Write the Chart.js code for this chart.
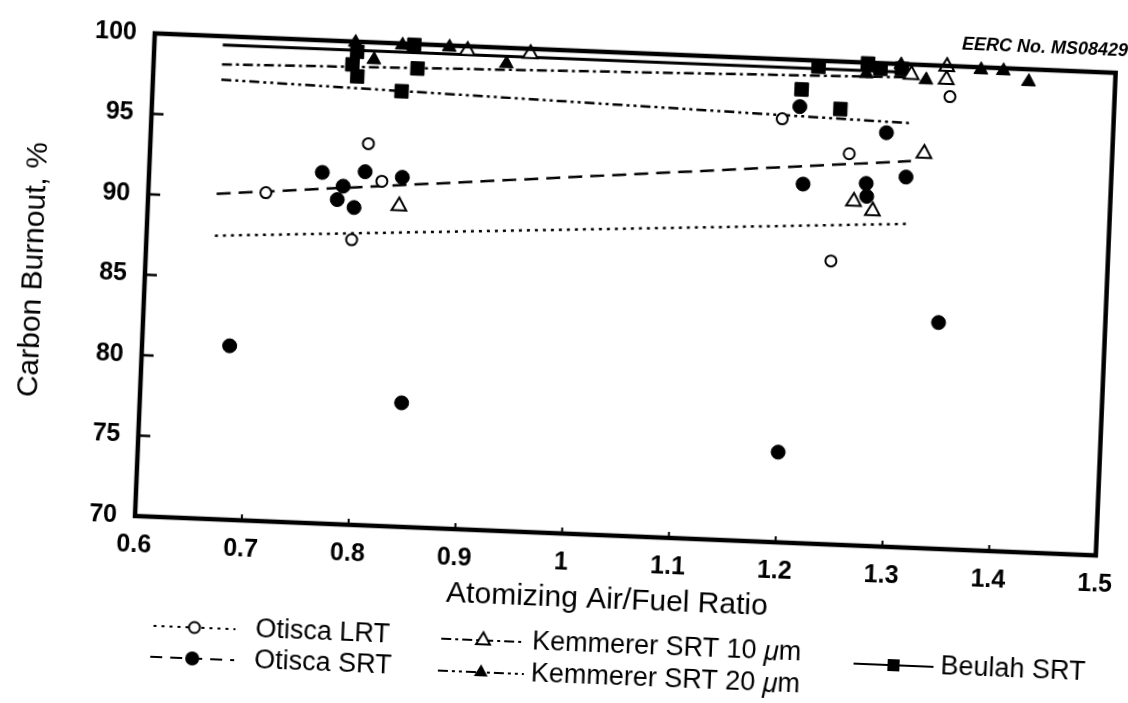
<!DOCTYPE html>
<html>
<head>
<meta charset="utf-8">
<script src="https://cdn.jsdelivr.net/npm/chart.js@4"></script>
<style>
  html, body { margin: 0; padding: 0; background: #fff; overflow: hidden; }
  /* the scanned figure sits slightly tilted, so the whole chart is turned a little */
  #wrap { position: absolute; left: 0; top: 0; width: 1128px; height: 703px;
          transform: rotate(2.35deg); transform-origin: 135px 516px; }
</style>
</head>
<body>
<div id="wrap"><canvas id="chart" width="1128" height="703"></canvas></div>
<script>
// ---- data ----
const xTickValues = [0.6, 0.7, 0.8, 0.9, 1.0, 1.1, 1.2, 1.3, 1.4, 1.5];
const xTickLabels = ['0.6', '0.7', '0.8', '0.9', '1', '1.1', '1.2', '1.3', '1.4', '1.5'];
const yTickValues = [70, 75, 80, 85, 90, 95, 100];

const lrtX = [0.710, 0.804, 0.818, 0.792, 1.190, 1.346, 1.254, 1.241];
const lrtY = [90.4, 93.7, 91.4, 87.7, 96.3, 98.1, 94.3, 87.6];

const srtX = [0.762, 0.782, 0.777, 0.793, 0.802, 0.837, 0.682, 0.845, 1.199, 1.206, 1.288, 1.212, 1.271, 1.272, 1.308, 1.344];
const srtY = [91.8, 91.0, 90.15, 89.7, 91.95, 91.7, 80.8, 77.7, 75.6, 97.1, 95.7, 92.3, 92.5, 91.7, 93.0, 84.05];

const k10X = [0.835, 1.324, 1.260, 1.278, 1.342, 1.342, 0.893, 0.952, 1.309];
const k10Y = [89.9, 94.5, 91.35, 90.8, 99.15, 99.95, 99.72, 99.69, 99.36];

const k20X = [0.788, 0.806, 0.832, 0.876, 0.930, 1.267, 1.299, 1.323, 1.374, 1.395, 1.419];
const k20Y = [99.95, 98.93, 99.9, 99.9, 99.02, 99.31, 99.95, 99.08, 99.85, 99.84, 99.23];

const beulahX = [0.790, 0.786, 0.791, 0.847, 0.833, 0.843, 1.207, 1.244, 1.222, 1.268, 1.280, 1.300];
const beulahY = [99.38, 98.57, 97.85, 98.49, 97.04, 99.95, 98.17, 97.05, 99.62, 99.95, 99.66, 99.71];

// fitted lines (end points)
const fitX = [0.664, 1.312];
const lrtFit = [87.6, 90.1];
const srtFit = [90.2, 94.0];
const k10Fit = [98.25, 99.2];
const k20Fit = [97.3, 96.35];
const beulahFit = [99.45, 99.5];

const FONT = '"Liberation Sans", Arial, Helvetica, sans-serif';

function pts(xs, ys) {
    return xs.map(function(x, i) { return {x: x, y: ys[i]}; });
}

function pointSet(label, xs, ys, style, radius, filled) {
    return {
        label: label,
        data: pts(xs, ys),
        showLine: false,
        pointStyle: style,
        pointRadius: radius,
        pointHoverRadius: radius,
        pointBorderWidth: filled ? 1 : 2,
        pointBorderColor: '#000',
        pointBackgroundColor: filled ? '#000' : '#fff',
        clip: false,
        order: 0
    };
}

function fitSet(label, ys, dash, width) {
    return {
        label: label,
        data: pts(fitX, ys),
        showLine: true,
        borderColor: '#000',
        borderWidth: width,
        borderDash: dash,
        pointRadius: 0,
        pointHoverRadius: 0,
        fill: false,
        order: 1
    };
}

// small marker painter for the hand-placed legend
function drawMark(ctx, kind, x, y) {
    ctx.save();
    ctx.setLineDash([]);
    ctx.lineWidth = 2;
    ctx.strokeStyle = '#000';
    ctx.fillStyle = '#000';
    ctx.beginPath();
    if (kind === 'openCircle' || kind === 'circle') {
        ctx.arc(x, y, kind === 'circle' ? 7 : 5.5, 0, Math.PI * 2);
    } else if (kind === 'openTri' || kind === 'tri') {
        let r = 8;
        ctx.moveTo(x, y - r);
        ctx.lineTo(x + r * 0.866, y + r * 0.5);
        ctx.lineTo(x - r * 0.866, y + r * 0.5);
        ctx.closePath();
    } else {
        ctx.rect(x - 6, y - 6, 12, 12);
    }
    if (kind === 'openCircle' || kind === 'openTri') {
        ctx.fillStyle = '#fff';
        ctx.fill();
        ctx.stroke();
    } else {
        ctx.fill();
    }
    ctx.restore();
}

const decor = {
    id: 'decor',
    afterDraw(chart) {
        const ctx = chart.ctx;
        const a = chart.chartArea;
        const xs = chart.scales.x;
        const ys = chart.scales.y;
        ctx.save();
        ctx.strokeStyle = '#000';
        ctx.fillStyle = '#000';

        // frame
        ctx.lineWidth = 4.5;
        ctx.strokeRect(a.left, a.top, a.right - a.left, a.bottom - a.top);

        // inward tick marks
        ctx.lineWidth = 2.5;
        yTickValues.slice(1, -1).forEach(function(v) {
            let y = ys.getPixelForValue(v);
            ctx.beginPath(); ctx.moveTo(a.left, y); ctx.lineTo(a.left + 12, y); ctx.stroke();
        });
        ctx.lineWidth = 2;
        xTickValues.slice(1, -1).forEach(function(v) {
            let x = xs.getPixelForValue(v);
            ctx.beginPath(); ctx.moveTo(x, a.bottom); ctx.lineTo(x, a.bottom - 6); ctx.stroke();
        });

        // axis titles
        ctx.font = '30px ' + FONT;
        ctx.textAlign = 'center';
        ctx.textBaseline = 'middle';
        ctx.fillText('Atomizing Air/Fuel Ratio', 610, 581);
        ctx.save();
        ctx.translate(24, 274);
        ctx.rotate(-Math.PI / 2);
        ctx.fillText('Carbon Burnout, %', 0, 0);
        ctx.restore();

        // figure number
        ctx.font = 'italic bold 18px ' + FONT;
        ctx.textAlign = 'left';
        ctx.fillText('EERC No. MS08429', 942, 11);

        // legend
        const items = [
            {name: 'Otisca LRT', mark: 'openCircle', dash: [3, 5], x0: 158, x1: 240, y: 625, tx: 260},
            {name: 'Otisca SRT', mark: 'circle', dash: [12, 8], x0: 156, x1: 240, y: 656, tx: 260},
            {name: 'Kemmerer SRT 10 ', mark: 'openTri', dash: [10, 4, 3, 4], x0: 446, x1: 530, y: 626, tx: 537},
            {name: 'Kemmerer SRT 20 ', mark: 'tri', dash: [10, 4, 3, 4, 3, 4], x0: 444, x1: 530, y: 658, tx: 537},
            {name: 'Beulah SRT', mark: 'square', dash: [], x0: 859, x1: 939, y: 634, tx: 946}
        ];
        items.forEach(function(it) {
            ctx.lineWidth = 2;
            ctx.setLineDash(it.dash);
            ctx.beginPath(); ctx.moveTo(it.x0, it.y); ctx.lineTo(it.x1, it.y); ctx.stroke();
            ctx.setLineDash([]);
            drawMark(ctx, it.mark, (it.x0 + it.x1) / 2, it.y);
            ctx.font = '27px ' + FONT;
            ctx.textAlign = 'left';
            ctx.textBaseline = 'middle';
            ctx.fillText(it.name, it.tx, it.y);
            if (it.name.indexOf('Kemmerer') === 0) {
                let w = ctx.measureText(it.name).width;
                ctx.font = 'italic 27px ' + FONT;
                ctx.fillText('\u03bc', it.tx + w, it.y);
                let w2 = ctx.measureText('\u03bc').width;
                ctx.font = '27px ' + FONT;
                ctx.fillText('m', it.tx + w + w2, it.y);
            }
        });
        ctx.restore();
    }
};

const ctx = document.getElementById('chart').getContext('2d');

const myChart = new Chart(ctx, {
    type: 'scatter',
    data: {
        datasets: [
            pointSet('Otisca LRT', lrtX, lrtY, 'circle', 5.5, false),
            pointSet('Otisca SRT', srtX, srtY, 'circle', 7, true),
            pointSet('Kemmerer SRT 10 \u03bcm', k10X, k10Y, 'triangle', 8.5, false),
            pointSet('Kemmerer SRT 20 \u03bcm', k20X, k20Y, 'triangle', 8, true),
            pointSet('Beulah SRT', beulahX, beulahY, 'rect', 9.5, true),
            fitSet('Otisca LRT fit', lrtFit, [3, 5], 2.5),
            fitSet('Otisca SRT fit', srtFit, [14, 8], 2.5),
            fitSet('Kemmerer SRT 10 fit', k10Fit, [10, 4, 3, 4], 2.5),
            fitSet('Kemmerer SRT 20 fit', k20Fit, [10, 4, 3, 4, 3, 4], 2.5),
            fitSet('Beulah SRT fit', beulahFit, [], 3)
        ]
    },
    options: {
        responsive: false,
        animation: false,
        layout: { padding: { left: 0, top: 26, right: 29, bottom: 0 } },
        plugins: {
            legend: { display: false },
            tooltip: { enabled: false }
        },
        scales: {
            x: {
                type: 'linear',
                min: 0.6,
                max: 1.5,
                afterBuildTicks: function(scale) {
                    scale.ticks = xTickValues.map(function(v) { return {value: v}; });
                },
                afterFit: function(scale) { scale.height = 187; },
                grid: { display: true, drawOnChartArea: false, drawTicks: false },
                border: { display: false },
                ticks: {
                    padding: 14,
                    color: '#000',
                    font: { family: FONT, size: 25, weight: 'bold' },
                    callback: function(value, index) { return xTickLabels[index]; }
                }
            },
            y: {
                type: 'linear',
                min: 70,
                max: 100,
                afterBuildTicks: function(scale) {
                    scale.ticks = yTickValues.map(function(v) { return {value: v}; });
                },
                afterFit: function(scale) { scale.width = 135; },
                grid: { display: true, drawOnChartArea: false, drawTicks: false },
                border: { display: false },
                ticks: {
                    padding: 18,
                    color: '#000',
                    font: { family: FONT, size: 25, weight: 'bold' }
                }
            }
        }
    },
    plugins: [decor]
});
</script>
</body>
</html>
